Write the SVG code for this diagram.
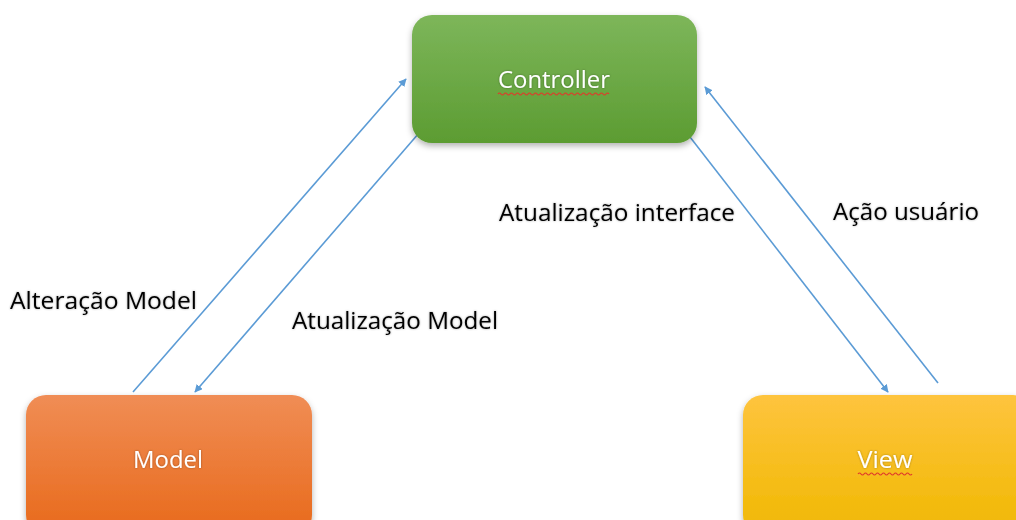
<svg xmlns="http://www.w3.org/2000/svg" width="1016" height="520" viewBox="0 0 1016 520">
  <style>
    .node-text { font-family: "Open Sans", "Liberation Sans", sans-serif; font-size: 24px; fill: #ffffff; text-anchor: middle; }
    .label { font-family: "Open Sans", "Liberation Sans", sans-serif; font-size: 23px; fill: #000000; }
    .conn { stroke: #5b9bd5; stroke-width: 1.6; fill: none; marker-end: url(#arrow); }
    .squiggle { stroke: #e03a2a; stroke-width: 1.2; fill: none; }
  </style>
  <defs>
    <linearGradient id="gGreen" x1="0" y1="0" x2="0" y2="1">
      <stop offset="0" stop-color="#7db65a"/>
      <stop offset="1" stop-color="#5c9c32"/>
    </linearGradient>
    <linearGradient id="gOrange" x1="0" y1="0" x2="0" y2="1">
      <stop offset="0" stop-color="#f08d55"/>
      <stop offset="1" stop-color="#e8691a"/>
    </linearGradient>
    <linearGradient id="gYellow" x1="0" y1="0" x2="0" y2="1">
      <stop offset="0" stop-color="#fec43e"/>
      <stop offset="1" stop-color="#f0b800"/>
    </linearGradient>
    <filter id="shadow" x="-10%" y="-10%" width="120%" height="130%">
      <feDropShadow dx="0" dy="3" stdDeviation="3" flood-color="#000" flood-opacity="0.3"/>
    </filter>
    <filter id="textShadow" x="-10%" y="-20%" width="120%" height="140%">
      <feDropShadow dx="0" dy="0" stdDeviation="0.8" flood-color="#000" flood-opacity="0.35"/>
    </filter>
    <marker id="arrow" viewBox="0 0 10 10" refX="9" refY="5" markerWidth="8" markerHeight="8" markerUnits="userSpaceOnUse" orient="auto">
      <path d="M0,0 L10,5 L0,10 z" fill="#5b9bd5"/>
    </marker>
  </defs>

  <rect width="1016" height="520" fill="#ffffff"/>

  <!-- connectors -->
  <g id="connectors">
    <line class="conn" x1="133" y1="392" x2="406" y2="79"/>
    <line class="conn" x1="419" y1="133" x2="195" y2="392"/>
    <line class="conn" x1="690" y1="137" x2="888" y2="392"/>
    <line class="conn" x1="938" y1="383" x2="705" y2="87"/>
  </g>

  <!-- connector labels -->
  <g id="labels" filter="url(#textShadow)">
    <text class="label" x="10" y="309" textLength="187" lengthAdjust="spacingAndGlyphs">Alteração Model</text>
    <text class="label" x="292" y="329" textLength="206" lengthAdjust="spacingAndGlyphs">Atualização Model</text>
    <text class="label" x="499" y="221" textLength="236" lengthAdjust="spacingAndGlyphs">Atualização interface</text>
    <text class="label" x="833" y="220" textLength="146" lengthAdjust="spacingAndGlyphs">Ação usuário</text>
  </g>

  <!-- Controller -->
  <g id="controller">
    <rect x="412" y="15" width="285" height="128" rx="20" fill="url(#gGreen)" filter="url(#shadow)"/>
    <text class="node-text" x="554" y="88" textLength="112" lengthAdjust="spacingAndGlyphs" filter="url(#textShadow)">Controller</text>
    <path class="squiggle" d="M498,94 q1.5,-2 3,0 t3,0 t3,0 t3,0 t3,0 t3,0 t3,0 t3,0 t3,0 t3,0 t3,0 t3,0 t3,0 t3,0 t3,0 t3,0 t3,0 t3,0 t3,0 t3,0 t3,0 t3,0 t3,0 t3,0 t3,0 t3,0 t3,0 t3,0 t3,0 t3,0 t3,0 t3,0 t3,0 t3,0 t3,0 t3,0 t3,0"/>
  </g>

  <!-- Model -->
  <g id="model">
    <rect x="26" y="395" width="286" height="140" rx="20" fill="url(#gOrange)" filter="url(#shadow)"/>
    <text class="node-text" x="168" y="468" textLength="70" lengthAdjust="spacingAndGlyphs" filter="url(#textShadow)">Model</text>
  </g>

  <!-- View -->
  <g id="view">
    <rect x="743" y="395" width="290" height="140" rx="20" fill="url(#gYellow)" filter="url(#shadow)"/>
    <text class="node-text" x="885" y="468" textLength="55" lengthAdjust="spacingAndGlyphs" filter="url(#textShadow)">View</text>
    <path class="squiggle" d="M858,474 q1.5,-2 3,0 t3,0 t3,0 t3,0 t3,0 t3,0 t3,0 t3,0 t3,0 t3,0 t3,0 t3,0 t3,0 t3,0 t3,0 t3,0 t3,0 t3,0"/>
  </g>
</svg>
